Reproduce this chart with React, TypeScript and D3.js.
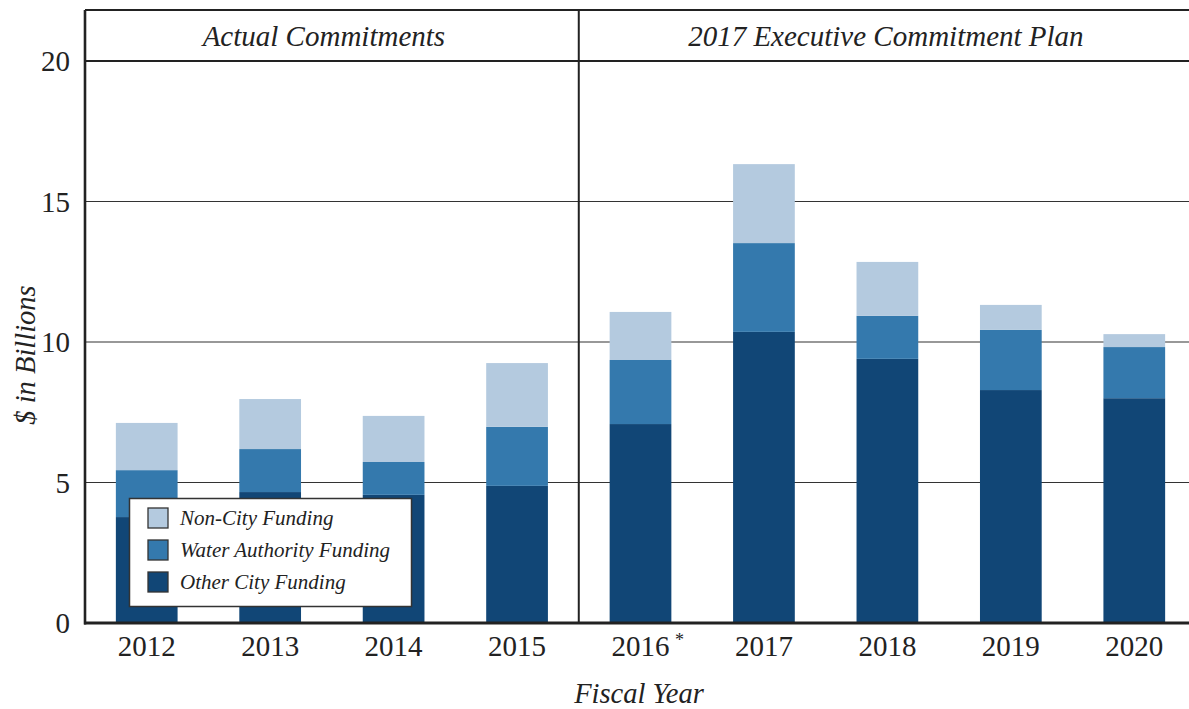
import React from "react";
import * as d3 from "d3";

const years = ["2012", "2013", "2014", "2015", "2016", "2017", "2018", "2019", "2020"];
const otherCity = [3.77, 4.66, 4.56, 4.88, 7.08, 10.36, 9.4, 8.29, 8.0];
const waterAuthority = [1.67, 1.53, 1.17, 2.1, 2.28, 3.16, 1.53, 2.14, 1.82];
const nonCity = [1.68, 1.78, 1.64, 2.27, 1.71, 2.81, 1.92, 0.89, 0.46];
const seriesKeys = ["other", "water", "nonCity"];
const seriesLabels = ["Other City Funding", "Water Authority Funding", "Non-City Funding"];
const colors = ["#114676", "#3479ad", "#b4cadf"];
const yTicks = [0, 5, 10, 15, 20];
const sections = ["Actual Commitments", "2017 Executive Commitment Plan"];

const W = 1189;
const H = 709;
const left = 85;
const top = 61;
const bottom = 623;
const font = "'Liberation Serif', 'Times New Roman', serif";

export default function App() {
  const x = d3.scaleBand<string>().domain(years).range([left, 1196]).paddingInner(0.5).paddingOuter(0.25);
  const y = d3.scaleLinear().domain([0, 20]).range([bottom, top]);
  const rows = years.map((yr, i) => ({ year: yr, other: otherCity[i], water: waterAuthority[i], nonCity: nonCity[i] }));
  const stacked = d3.stack<any>().keys(seriesKeys)(rows);
  const dividerX = ((x("2015") as number) + x.bandwidth() + (x("2016") as number)) / 2;

  return (
    <svg width={W} height={H} style={{ position: "absolute", left: 0, top: 0, background: "#fff" }}>
      {/* gridlines */}
      {yTicks.filter((t) => t > 0 && t < 20).map((t) => (
        <line key={t} x1={left} x2={W} y1={y(t)} y2={y(t)} stroke="#333" strokeWidth={1.2} />
      ))}
      {/* bars */}
      {stacked.map((s, si) => (
        <g key={s.key} fill={colors[si]}>
          {s.map((d, i) => (
            <rect key={i} x={x(years[i])} width={x.bandwidth()} y={y(d[1])} height={y(d[0]) - y(d[1])} />
          ))}
        </g>
      ))}
      {/* header */}
      <line x1={left} x2={W} y1={10} y2={10} stroke="#222" strokeWidth={2.2} />
      <line x1={left} x2={W} y1={y(20)} y2={y(20)} stroke="#222" strokeWidth={2.2} />
      <line x1={dividerX} x2={dividerX} y1={10} y2={bottom} stroke="#222" strokeWidth={2} />
      <text x={(left + dividerX) / 2 - 8} y={46} textAnchor="middle" fontFamily={font} fontStyle="italic" fontSize={29} fill="#222">{sections[0]}</text>
      <text x={(dividerX + W) / 2 + 2} y={46} textAnchor="middle" fontFamily={font} fontStyle="italic" fontSize={29} fill="#222">{sections[1]}</text>
      {/* axes */}
      <line x1={left} x2={left} y1={10} y2={bottom + 1.5} stroke="#222" strokeWidth={2.6} />
      <line x1={left - 1} x2={W} y1={bottom} y2={bottom} stroke="#222" strokeWidth={3} />
      {yTicks.map((t) => (
        <text key={t} x={70} y={y(t) + 10} textAnchor="end" fontFamily={font} fontSize={29} fill="#222">{t}</text>
      ))}
      {years.map((yr) => (
        <text key={yr} x={(x(yr) as number) + x.bandwidth() / 2} y={656} textAnchor="middle" fontFamily={font} fontSize={29} fill="#222">{yr}</text>
      ))}
      <text x={(x("2016") as number) + x.bandwidth() / 2 + 39} y={646} textAnchor="middle" fontFamily={font} fontSize={18} fill="#222">*</text>
      <text x={639} y={703} textAnchor="middle" fontFamily={font} fontStyle="italic" fontSize={28.5} fill="#222">Fiscal Year</text>
      <text transform={`translate(35,${355}) rotate(-90)`} textAnchor="middle" fontFamily={font} fontStyle="italic" fontSize={28.5} fill="#222">$ in Billions</text>
      {/* legend */}
      <rect x={129.5} y={498.5} width={282} height={108} fill="#fff" stroke="#333" strokeWidth={1.5} />
      {[2, 1, 0].map((si, row) => (
        <g key={si}>
          <rect x={148} y={508 + row * 32} width={20} height={20} fill={colors[si]} stroke="#333" strokeWidth={1.3} />
          <text x={180} y={525 + row * 32} fontFamily={font} fontStyle="italic" fontSize={21} fill="#222">{seriesLabels[si]}</text>
        </g>
      ))}
    </svg>
  );
}
